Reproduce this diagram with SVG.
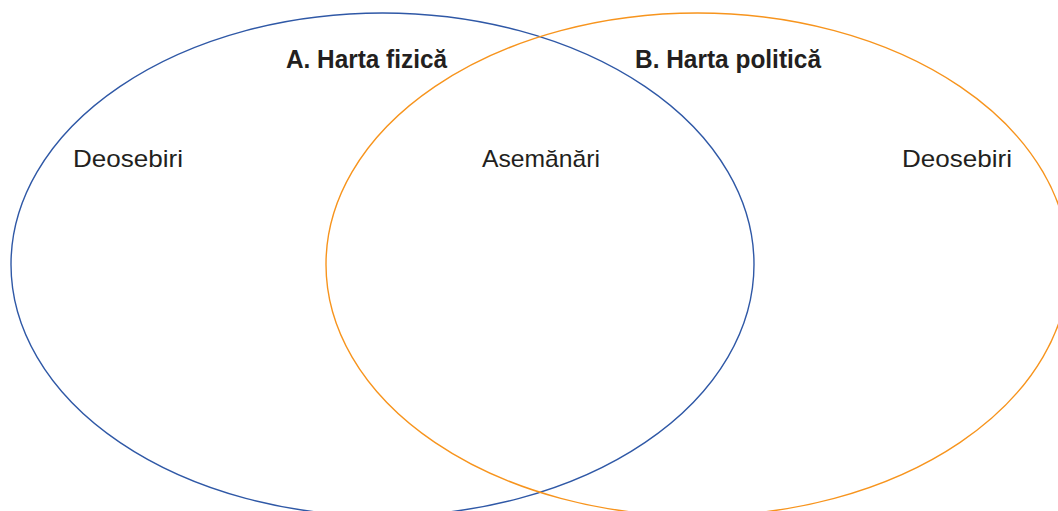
<svg xmlns="http://www.w3.org/2000/svg" width="1058" height="511" viewBox="0 0 1058 511">
<style>
.ring{fill:none;stroke-width:1.4}
.t{font-family:"Liberation Sans",Arial,sans-serif;fill:#231f20}
.r{font-size:24px}
.b{font-size:26px;font-weight:bold}
</style>
<rect width="1058" height="511" fill="#fff"/>
<g id="circle-a">
<ellipse class="ring" cx="382.5" cy="264.5" rx="371.5" ry="251.5" stroke="#2f58a6"/>
</g>
<g id="circle-b">
<ellipse class="ring" cx="697.5" cy="264.5" rx="371.5" ry="251.5" stroke="#f7941d"/>
</g>
<g id="labels">
<text class="t b" x="286" y="68" textLength="161" lengthAdjust="spacingAndGlyphs">A. Harta fizică</text>
<text class="t b" x="635" y="68" textLength="186" lengthAdjust="spacingAndGlyphs">B. Harta politică</text>
<text class="t r" x="73" y="167" textLength="110" lengthAdjust="spacingAndGlyphs">Deosebiri</text>
<text class="t r" x="482" y="167" textLength="118" lengthAdjust="spacingAndGlyphs">Asemănări</text>
<text class="t r" x="902" y="167" textLength="110" lengthAdjust="spacingAndGlyphs">Deosebiri</text>
</g>
<g id="connectors"/>
</svg>
